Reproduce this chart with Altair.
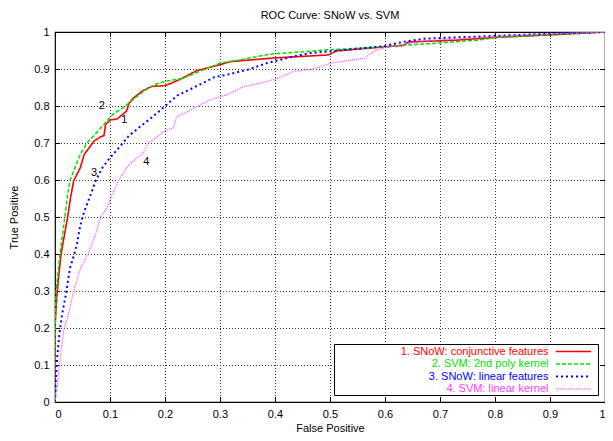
import altair as alt
import pandas as pd

FONT = "Liberation Sans"

series_names = [
    "1. SNoW: conjunctive features",
    "2. SVM: 2nd poly kernel",
    "3. SNoW: linear features",
    "4. SVM: linear kernel",
]
series_colors = ["#ff0000", "#00e000", "#0000ff", "#ff40ff"]

red_x = [0, 0, 0.003, 0.006, 0.011, 0.017, 0.023, 0.028, 0.034, 0.046, 0.053, 0.071, 0.082, 0.089, 0.092,
         0.1, 0.113, 0.125, 0.13, 0.135, 0.143, 0.158, 0.176, 0.2, 0.212, 0.23, 0.257, 0.3, 0.32, 0.4,
         0.497, 0.512, 0.593, 0.635, 0.642, 0.731, 0.797, 0.851, 0.91, 1.0]
red_y = [0, 0.2, 0.28, 0.33, 0.4, 0.45, 0.5, 0.55, 0.598, 0.633, 0.669, 0.705, 0.716, 0.72, 0.75,
         0.762, 0.765, 0.78, 0.786, 0.808, 0.822, 0.84, 0.853, 0.855, 0.862, 0.874, 0.895, 0.912, 0.92, 0.93,
         0.938, 0.949, 0.959, 0.964, 0.973, 0.978, 0.985, 0.989, 0.993, 1.0]

green_x = [0, 0, 0.002, 0.009, 0.018, 0.022, 0.027, 0.038, 0.047, 0.058, 0.072, 0.092, 0.105, 0.128, 0.146,
           0.164, 0.185, 0.209, 0.233, 0.257, 0.3, 0.33, 0.383, 0.398, 0.464, 0.497, 0.593, 0.64, 0.677,
           0.767, 0.802, 0.881, 1.0]
green_y = [0, 0.2, 0.3, 0.4, 0.5, 0.55, 0.598, 0.64, 0.672, 0.7, 0.722, 0.755, 0.777, 0.8, 0.822,
           0.843, 0.86, 0.869, 0.875, 0.89, 0.916, 0.923, 0.938, 0.941, 0.948, 0.952, 0.959, 0.965, 0.968,
           0.978, 0.985, 0.991, 1.0]

blue_x = [0, 0.001, 0.004, 0.008, 0.013, 0.02, 0.027, 0.035, 0.04, 0.044, 0.05, 0.056, 0.065, 0.074, 0.086,
          0.1, 0.116, 0.134, 0.152, 0.17, 0.188, 0.2, 0.222, 0.251, 0.29, 0.314, 0.35, 0.386, 0.434, 0.464,
          0.518, 0.599, 0.635, 0.671, 0.791, 0.911, 1.0]
blue_y = [0, 0.05, 0.12, 0.184, 0.238, 0.292, 0.36, 0.4, 0.427, 0.463, 0.5, 0.526, 0.561, 0.598, 0.633,
          0.66, 0.687, 0.719, 0.741, 0.762, 0.784, 0.8, 0.828, 0.849, 0.878, 0.885, 0.898, 0.916, 0.934, 0.943,
          0.95, 0.962, 0.974, 0.982, 0.989, 0.996, 1.0]

mag_x = [0, 0.002, 0.007, 0.011, 0.016, 0.026, 0.034, 0.047, 0.06, 0.074, 0.083, 0.095, 0.104, 0.116, 0.134,
         0.149, 0.158, 0.17, 0.188, 0.2, 0.215, 0.221, 0.254, 0.284, 0.314, 0.344, 0.374, 0.404, 0.434, 0.464,
         0.506, 0.563, 0.581, 0.602, 0.635, 0.671, 0.791, 0.911, 1.0]
mag_y = [0, 0.022, 0.08, 0.139, 0.195, 0.247, 0.3, 0.364, 0.4, 0.454, 0.5, 0.526, 0.561, 0.6, 0.64,
         0.66, 0.669, 0.7, 0.719, 0.733, 0.741, 0.77, 0.795, 0.818, 0.831, 0.853, 0.862, 0.874, 0.894, 0.898,
         0.917, 0.929, 0.949, 0.958, 0.967, 0.976, 0.987, 0.996, 1.0]

curve_label_text = ["1", "2", "3", "4"]
curve_label_x = [0.126, 0.085, 0.071, 0.166]
curve_label_y = [0.762, 0.80, 0.62, 0.649]

tick_values = [0, 0.1, 0.2, 0.3, 0.4, 0.5, 0.6, 0.7, 0.8, 0.9, 1.0]

xs = [red_x, green_x, blue_x, mag_x]
ys = [red_y, green_y, blue_y, mag_y]
dashes = [[1, 0], [4, 2], [2, 3], [1, 1]]
widths = [1.6, 1.5, 2.0, 1.2]

W, H = 550, 370
TICK = 5

xscale = alt.Scale(domain=[0, 1], nice=False, zero=False)
yscale = alt.Scale(domain=[0, 1], nice=False, zero=False)
xaxis = alt.Axis(values=tick_values, format=".1~f", grid=False, title="False Positive")
yaxis = alt.Axis(values=tick_values, format=".1~f", grid=False, title="True Positive")


def X(field):
    return alt.X(f"{field}:Q", scale=xscale, axis=xaxis)


def Y(field):
    return alt.Y(f"{field}:Q", scale=yscale, axis=yaxis)


layers = []

# grid lines as two-point line segments at the inner tick values
inner = tick_values[1:-1]
vg = pd.DataFrame({
    "fp": [v for v in inner for _ in (0, 1)],
    "tp": [e for _ in inner for e in (0.0, 1.0)],
    "gid": [i for i in range(len(inner)) for _ in (0, 1)],
})
hg = pd.DataFrame({
    "fp": [e for _ in inner for e in (0.0, 1.0)],
    "tp": [v for v in inner for _ in (0, 1)],
    "gid": [i for i in range(len(inner)) for _ in (0, 1)],
})
layers.append(alt.Chart(vg).mark_line(color="#333333", strokeDash=[1, 2], strokeWidth=1,
                                      xOffset=0.5).encode(
    x=X("fp"), y=Y("tp"), detail="gid:N"))
layers.append(alt.Chart(hg).mark_line(color="#333333", strokeDash=[1, 2], strokeWidth=1,
                                      yOffset=0.5).encode(
    x=X("fp"), y=Y("tp"), detail="gid:N"))

# inward tick marks on all four sides (short two-point segments)
tx, ty = TICK / W, TICK / H
n = len(tick_values)
tick_rows = {"fp": [], "tp": [], "gid": []}
gid = 0
for v in tick_values:
    for (a, b) in [((v, 0.0), (v, ty)), ((v, 1.0), (v, 1.0 - ty))]:
        tick_rows["fp"] += [a[0], b[0]]
        tick_rows["tp"] += [a[1], b[1]]
        tick_rows["gid"] += [gid, gid]
        gid += 1
vt = pd.DataFrame(tick_rows)
tick_rows = {"fp": [], "tp": [], "gid": []}
for v in tick_values:
    for (a, b) in [((0.0, v), (tx, v)), ((1.0, v), (1.0 - tx, v))]:
        tick_rows["fp"] += [a[0], b[0]]
        tick_rows["tp"] += [a[1], b[1]]
        tick_rows["gid"] += [gid, gid]
        gid += 1
ht = pd.DataFrame(tick_rows)
layers.append(alt.Chart(vt).mark_line(color="#000", strokeWidth=1, xOffset=0.5).encode(
    x=X("fp"), y=Y("tp"), detail="gid:N"))
layers.append(alt.Chart(ht).mark_line(color="#000", strokeWidth=1, yOffset=0.5).encode(
    x=X("fp"), y=Y("tp"), detail="gid:N"))

for i, name in enumerate(series_names):
    df = pd.DataFrame({"fp": xs[i], "tp": ys[i], "idx": list(range(len(xs[i])))})
    layers.append(
        alt.Chart(df).mark_line(color=series_colors[i], strokeDash=dashes[i],
                                strokeWidth=widths[i], clip=True).encode(
            x=X("fp"), y=Y("tp"), order="idx:Q")
    )

lab_df = pd.DataFrame({"t": curve_label_text, "fp": curve_label_x, "tp": curve_label_y})
layers.append(
    alt.Chart(lab_df).mark_text(font=FONT, fontSize=11, color="#000").encode(
        x=X("fp"), y=Y("tp"), text="t:N")
)

# legend (drawn in pixel space, anchored to bottom-right of the plot)
dummy = pd.DataFrame({"a": [1]})
box_r, box_b = W - 6.5, H - 6.5
box_l, box_t = box_r - 264, box_b - 51
layers.append(
    alt.Chart(dummy).mark_rect(fill="white", stroke="black", strokeWidth=1).encode(
        x=alt.value(box_l), x2=alt.value(box_r), y=alt.value(box_t), y2=alt.value(box_b))
)
for i, name in enumerate(series_names):
    ry = box_b - 44 + 12.5 * i
    layers.append(
        alt.Chart(dummy).mark_text(font=FONT, fontSize=11, align="right", baseline="middle",
                                   color=series_colors[i]).encode(
            x=alt.value(box_r - 50), y=alt.value(ry), text=alt.value(name))
    )
    layers.append(
        alt.Chart(dummy).mark_rule(color=series_colors[i], strokeDash=dashes[i],
                                   strokeWidth=widths[i]).encode(
            x=alt.value(box_r - 42.5), x2=alt.value(box_r - 7.5), y=alt.value(ry))
    )

chart = alt.layer(*layers).properties(
    width=W, height=H,
    autosize=alt.AutoSizeParams(type="none"),
    padding={"left": 47, "top": 24, "right": 0, "bottom": 31},
    title=alt.TitleParams("ROC Curve: SNoW vs. SVM", font=FONT, fontSize=11,
                          fontWeight="normal", color="#000", offset=5),
).configure_view(
    stroke="black", strokeWidth=1.2
).configure_axis(
    grid=False, domain=False, ticks=False,
    labelFont=FONT, labelFontSize=11, labelColor="#000",
    titleFont=FONT, titleFontSize=11, titleFontWeight="normal", titleColor="#000",
).configure_axisX(
    labelPadding=6, titlePadding=3
).configure_axisY(
    labelPadding=6, titlePadding=14
)

chart.save("out.html", embed_options={"renderer": "svg", "actions": False})
